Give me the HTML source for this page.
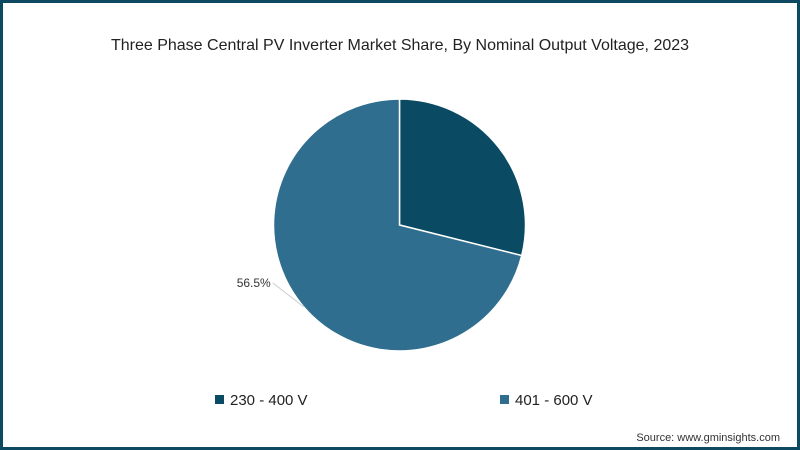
<!DOCTYPE html>
<html><head><meta charset="utf-8"><style>
html,body{margin:0;padding:0;background:#fff}
#frame{position:relative;width:800px;height:450px;box-sizing:border-box;border:3px solid #0d4a62;background:#fff;font-family:"Liberation Sans",sans-serif;overflow:hidden}
</style></head><body>
<div id="frame">
<svg id="chart" width="794" height="444" viewBox="3 3 794 444" style="position:absolute;left:0;top:0">
<text x="400" y="50" text-anchor="middle" font-size="16" fill="#222">Three Phase Central PV Inverter Market Share, By Nominal Output Voltage, 2023</text>
<g id="slices"></g>
<g id="legend"></g>
<text x="780" y="441" text-anchor="end" font-size="11" fill="#333">Source: www.gminsights.com</text>
</svg>
</div>
<script>
const categories = ["230 - 400 V", "401 - 600 V"];
const values = [28.9, 71.1];
const labels = ["", "56.5%"];
const colors = ["#0b4a63", "#2f6e8e"];
const cx = 399.5, cy = 225, r = 126;
const NS = "http://www.w3.org/2000/svg";
const gS = document.getElementById("slices");
const total = values.reduce((a,b)=>a+b,0);
function pt(a, rr){ return [cx + rr*Math.sin(a), cy - rr*Math.cos(a)]; }
let start = 0;
values.forEach((v,i)=>{
  const end = start + v/total*2*Math.PI;
  const [x1,y1] = pt(start,r), [x2,y2] = pt(end,r);
  const large = (end-start) > Math.PI ? 1 : 0;
  const p = document.createElementNS(NS,"path");
  p.setAttribute("d",`M${cx},${cy} L${x1},${y1} A${r},${r} 0 ${large} 1 ${x2},${y2} Z`);
  p.setAttribute("fill",colors[i]);
  p.setAttribute("stroke","#fff");
  p.setAttribute("stroke-width","1.5");
  
  
  gS.appendChild(p);
  if(labels[i]){
    const mid = start + (end-start)*0.49;
    const [ax,ay] = pt(mid, r);
    const bx = ax - 31, by = ay - 24;
    const l = document.createElementNS(NS,"polyline");
    l.setAttribute("points",`${ax},${ay} ${bx},${by}`);
    l.setAttribute("fill","none");
    l.setAttribute("stroke","#ccc");
    l.setAttribute("stroke-width","1");
    
    
    gS.appendChild(l);
    const t = document.createElementNS(NS,"text");
    t.setAttribute("x", bx-2); t.setAttribute("y", by+4);
    t.setAttribute("text-anchor","end"); t.setAttribute("font-size","12"); t.setAttribute("fill","#333");
    t.textContent = labels[i];
    
    
    gS.appendChild(t);
  }
  start = end;
});
const gL = document.getElementById("legend");
const lx = [215, 500];
categories.forEach((c,i)=>{
  const g = document.createElementNS(NS,"g");
  
  
  const rc = document.createElementNS(NS,"rect");
  rc.setAttribute("x",lx[i]); rc.setAttribute("y",395); rc.setAttribute("width",9); rc.setAttribute("height",9);
  rc.setAttribute("fill",colors[i]);
  g.appendChild(rc);
  const t = document.createElementNS(NS,"text");
  t.setAttribute("x",lx[i]+15); t.setAttribute("y",405); t.setAttribute("font-size","15"); t.setAttribute("fill","#222");
  t.textContent = c;
  g.appendChild(t);
  gL.appendChild(g);
});
</script>
</body></html>
